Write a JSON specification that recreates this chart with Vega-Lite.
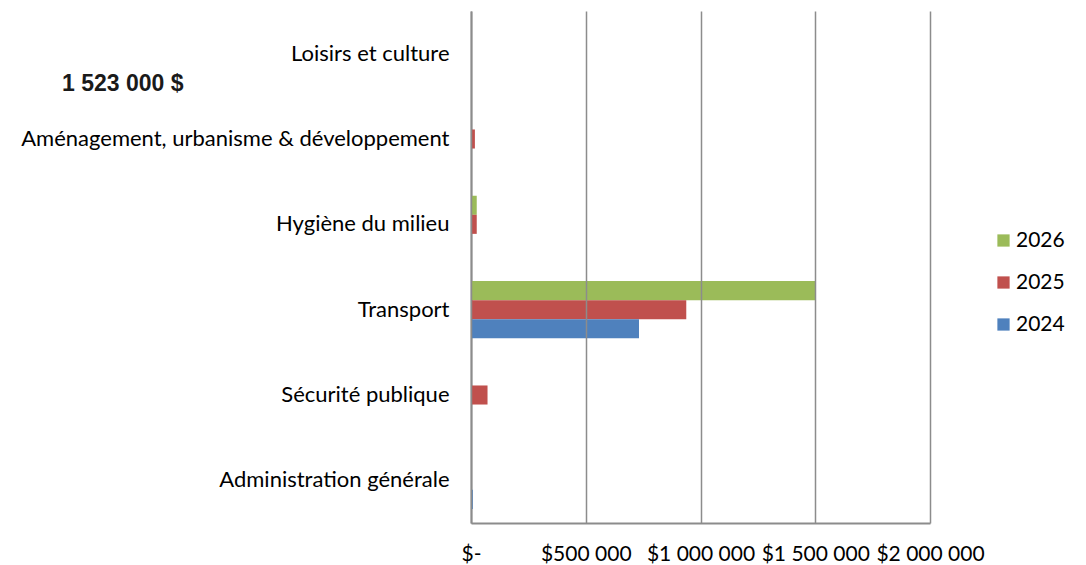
{
  "$schema": "https://vega.github.io/schema/vega-lite/v6.json",
  "width": 459,
  "height": 512,
  "autosize": {"type": "none"},
  "padding": {"left": 471, "top": 11, "right": 156, "bottom": 42},
  "background": "white",
  "config": {
    "view": {"stroke": null},
    "locale": {"number": {"decimal": ",", "thousands": " ", "grouping": [3], "currency": ["$", ""]}}
  },
  "title": {"text": "1 523 000 $", "anchor": "start", "frame": "group", "orient": "top", "font": "Liberation Sans", "fontSize": 23, "fontWeight": "bold", "color": "#1a1a1a", "dx": -409, "dy": 103, "offset": 0, "baseline": "alphabetic"},
  "data": {"values": [
    {"cat": "Loisirs et culture", "year": "2026", "value": 0},
    {"cat": "Loisirs et culture", "year": "2025", "value": 0},
    {"cat": "Loisirs et culture", "year": "2024", "value": 0},
    {"cat": "Aménagement, urbanisme & développement", "year": "2026", "value": 0},
    {"cat": "Aménagement, urbanisme & développement", "year": "2025", "value": 17000},
    {"cat": "Aménagement, urbanisme & développement", "year": "2024", "value": 0},
    {"cat": "Hygiène du milieu", "year": "2026", "value": 25000},
    {"cat": "Hygiène du milieu", "year": "2025", "value": 25000},
    {"cat": "Hygiène du milieu", "year": "2024", "value": 0},
    {"cat": "Transport", "year": "2026", "value": 1500000},
    {"cat": "Transport", "year": "2025", "value": 938000},
    {"cat": "Transport", "year": "2024", "value": 732000},
    {"cat": "Sécurité publique", "year": "2026", "value": 0},
    {"cat": "Sécurité publique", "year": "2025", "value": 72000},
    {"cat": "Sécurité publique", "year": "2024", "value": 0},
    {"cat": "Administration générale", "year": "2026", "value": 0},
    {"cat": "Administration générale", "year": "2025", "value": 0},
    {"cat": "Administration générale", "year": "2024", "value": 8000}
  ]},
  "mark": {"type": "bar"},
  "encoding": {
    "y": {
      "field": "cat", "type": "nominal",
      "sort": ["Loisirs et culture", "Aménagement, urbanisme & développement", "Hygiène du milieu", "Transport", "Sécurité publique", "Administration générale"],
      "scale": {"paddingInner": 0.33, "paddingOuter": 0.165},
      "axis": {"title": null, "labelFont": "Lato", "labelFontSize": 22, "labelColor": "#000", "labelPadding": 22, "ticks": false, "domainColor": "#8c8c8c", "domainWidth": 2, "labelLimit": 600}
    },
    "x": {
      "field": "value", "type": "quantitative",
      "scale": {"domain": [0, 2000000], "nice": false},
      "axis": {"title": null, "values": [0, 500000, 1000000, 1500000, 2000000], "format": "$,d", "labelExpr": "datum.value == 0 ? '$-' : datum.label", "grid": true, "gridColor": "#8c8c8c", "gridWidth": 1.5, "ticks": false, "domainColor": "#8c8c8c", "domainWidth": 2, "labelFont": "Lato", "labelFontSize": 21, "labelPadding": 20, "labelColor": "#000", "labelFlush": false, "zindex": 1}
    },
    "yOffset": {"field": "year", "sort": ["2026", "2025", "2024"]},
    "color": {
      "field": "year", "type": "nominal",
      "scale": {"domain": ["2026", "2025", "2024"], "range": ["#9BBB59", "#C0504D", "#4F81BD"]},
      "legend": {"title": null, "orient": "none", "legendX": 522, "legendY": 219, "labelFont": "Lato", "labelFontSize": 21, "labelColor": "#000", "symbolType": "square", "symbolSize": 150, "rowPadding": 20, "symbolStrokeWidth": 0, "labelOffset": 2}
    }
  }
}
